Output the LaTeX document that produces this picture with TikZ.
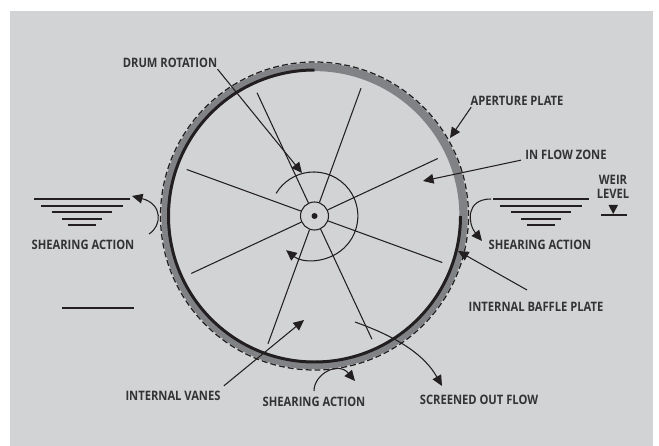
\documentclass[tikz,border=0pt]{standalone}
\usepackage{fontspec}
\setmainfont{Open Sans}[FakeStretch=0.86]
\usetikzlibrary{arrows.meta,calc}
\definecolor{panelgray}{HTML}{D1D3D4}
\definecolor{ringgray}{HTML}{808285}
\definecolor{inkblack}{HTML}{231F20}
\definecolor{labelgray}{HTML}{333335}
\tikzset{
    lbl/.style={inner sep=0pt, text=labelgray, font=\fontsize{7.4}{8}\selectfont\bfseries, align=center},
    leader/.style={draw=inkblack, line width=0.6pt, -{Triangle[length=6pt,width=5.5pt]}},
    thinline/.style={draw=inkblack, line width=0.6pt},
    level/.style={draw=inkblack, line width=0.8pt}
}
\begin{document}
\begin{tikzpicture}[x=0.02cm, y=0.02cm]
    \useasboundingbox (0,0) rectangle (659,446);
    \fill[panelgray] (10,0) rectangle (653,435);

    % Drum
    \coordinate (drum) at (314.5,230);
    \draw[ringgray, line width=4.7pt] (drum) circle (149);
    \draw[inkblack, line width=0.7pt, dash pattern=on 3.4pt off 1.7pt] (drum) circle (154);
    \draw[inkblack, line width=1.7pt] (314.5,376) arc (90:360:146);

    % Hub and vanes
    \node[circle, draw=inkblack, line width=0.6pt, minimum size=28*0.02cm, inner sep=0pt] (hub) at (drum) {};
    \fill[inkblack] (hub) circle (3);
    \foreach \a in {25,70,115,160,205,250,295,340} {
        \draw[thinline] (hub.\a) -- ($(drum)+(\a:136)$);
    }

    % Rotation arc
    \draw[leader] (349,256.5) arc (37:-129:44);
    \draw[thinline] (349,256.5) arc (37:149:44);

    % Labels
    \node[lbl] (rotation) at (170,383) {DRUM ROTATION};
    \node[lbl] (aperture) at (517,345) {APERTURE PLATE};
    \node[lbl] (inflow) at (566,291) {IN FLOW ZONE};
    \node[lbl] (weir) at (613,259) {WEIR\\LEVEL};
    \node[lbl] (shearleft) at (83,201) {SHEARING ACTION};
    \node[lbl] (shearright) at (540,201) {SHEARING ACTION};
    \node[lbl] (baffle) at (536,139) {INTERNAL BAFFLE PLATE};
    \node[lbl] (vanes) at (173,50) {INTERNAL VANES};
    \node[lbl] (shearbottom) at (314,44) {SHEARING ACTION};
    \node[lbl] (screened) at (479,46) {SCREENED OUT FLOW};

    % Leaders
    \draw[leader] ([yshift=-0.02cm]rotation.south east) -- (302,273);
    \draw[leader] ([xshift=0.02cm,yshift=-0.02cm]aperture.south west) -- (450,308);
    \draw[leader] ([xshift=-0.08cm]inflow.south west) -- (423,265);
    \draw[leader] ([xshift=-0.18cm,yshift=0.24cm]baffle.north) -- (458,195);
    \draw[leader] ([xshift=0.06cm,yshift=0.1cm]vanes.north east) -- (304,126);
    \draw[leader] (355,124) .. controls (400,108) and (425,90) .. (442,60);

    % Shearing arrows
    \draw[leader] (149,212) .. controls (162,220) and (163,242) .. (132,250);
    \draw[leader] (491,247) .. controls (465,247) and (468,222) .. (482,205);
    \draw[leader] (314,55) .. controls (314,72) and (338,85) .. (355,65);

    % Water lines left
    \draw[level] (34,247) -- (130,247);
    \draw[level] (41,240) -- (123,240);
    \draw[level] (52,234) -- (112,234);
    \draw[level] (62,227) -- (102,227);
    \draw[level] (68,221) -- (96,221);
    \draw[level] (62,138) -- (134,138);

    % Water lines right
    \draw[level] (493,247) -- (589,247);
    \draw[level] (500,240) -- (582,240);
    \draw[level] (511,234) -- (571,234);
    \draw[level] (521,227) -- (561,227);
    \draw[level] (527,221) -- (555,221);

    % Weir mark
    \draw[level] (601,231) -- (627,231);
    \fill[inkblack] (608.5,241) -- (618,241) -- (613.2,232) -- cycle;
\end{tikzpicture}
\end{document}
